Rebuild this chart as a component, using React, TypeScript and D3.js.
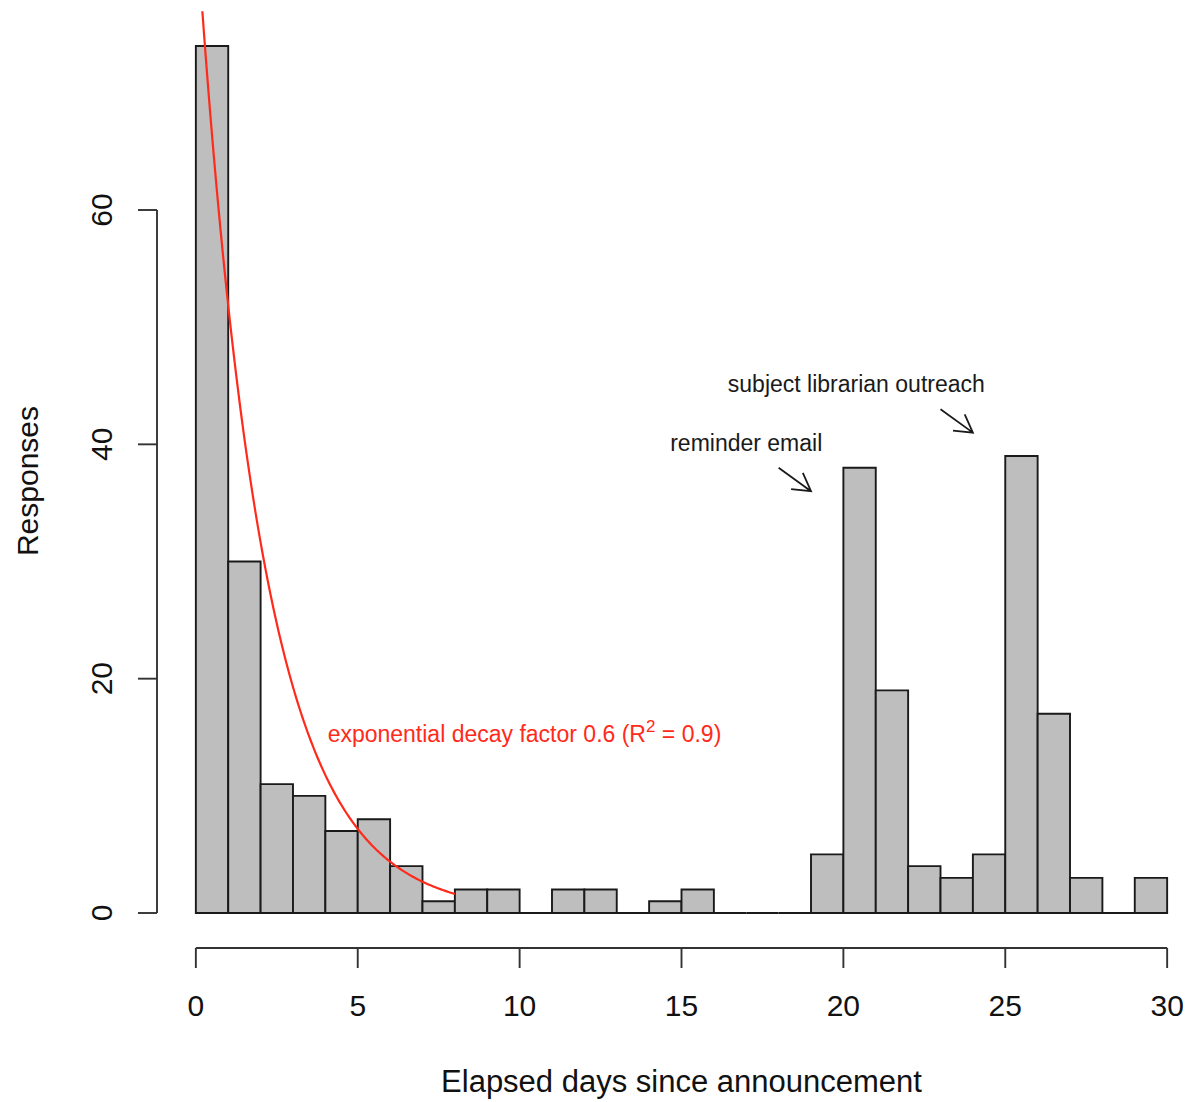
import React from "react";
import * as d3 from "d3";

// Histogram counts for bins [0,1), [1,2), ... [29,30)
const binStarts = d3.range(0, 30);
const counts = [74, 30, 11, 10, 7, 8, 4, 1, 2, 2, 0, 2, 2, 0, 1, 2, 0, 0, 0, 5, 38, 19, 4, 3, 5, 39, 17, 3, 0, 3];
const xTicks = [0, 5, 10, 15, 20, 25, 30];
const yTicks = [0, 20, 40, 60];

// Fitted exponential decay curve y = A * r^x for x in [0, 8]
const decayA = 85;
const decayRate = 0.61;
const curveX = d3.range(0, 8.0001, 0.05);

const annotations = [
  { label: "reminder email", x: 17.0, y: 40, arrow: [18, 38, 19, 36] },
  { label: "subject librarian outreach", x: 20.4, y: 45, arrow: [23, 43, 24, 41] },
];

const W = 1190;
const H = 1102;
const FONT = "'Liberation Sans', Arial, Helvetica, sans-serif";

export default function App() {
  const x = d3.scaleLinear().domain([-1.2, 31.2]).range([157, 1206]);
  const y = d3.scaleLinear().domain([0, 76.96]).range([913, 11.3]);

  const line = d3
    .line<number>()
    .x((d) => x(d))
    .y((d) => y(decayA * Math.pow(decayRate, d)));

  const arrowHead = (x0: number, y0: number, x1: number, y1: number) => {
    const px0 = x(x0), py0 = y(y0), px1 = x(x1), py1 = y(y1);
    const ang = Math.atan2(py0 - py1, px0 - px1);
    const len = 20;
    const a = Math.PI / 6;
    const h1 = [px1 + len * Math.cos(ang + a), py1 + len * Math.sin(ang + a)];
    const h2 = [px1 + len * Math.cos(ang - a), py1 + len * Math.sin(ang - a)];
    return `M${px0},${py0}L${px1},${py1}M${h1[0]},${h1[1]}L${px1},${py1}L${h2[0]},${h2[1]}`;
  };

  return (
    <svg width={W} height={H} style={{ display: "block", position: "absolute", left: 0, top: 0, background: "#fff" }} fontFamily={FONT}>
      <defs>
        <clipPath id="plotclip">
          <rect x={157} y={11.3} width={1049} height={913 - 11.3 + 40} />
        </clipPath>
      </defs>

      {/* bars */}
      <g>
        {binStarts.map((b, i) => {
          const x0 = x(b), x1 = x(b + 1), y0 = y(0), y1 = y(counts[i]);
          return (
            <path
              key={i}
              d={`M${x0},${y0}H${x1}V${y1}H${x0}Z`}
              fill="#bebebe"
              stroke="#1a1a1a"
              strokeWidth={1.9}
            />
          );
        })}
      </g>

      {/* decay curve */}
      <path d={line(curveX) || ""} fill="none" stroke="#ff2a1a" strokeWidth={2.2} clipPath="url(#plotclip)" />
      <text x={x(10.15)} y={742} textAnchor="middle" fontSize={23} fill="#ff2a1a">
        exponential decay factor 0.6 (R
        <tspan dy={-10} fontSize={17}>2</tspan>
        <tspan dy={10}> = 0.9)</tspan>
      </text>

      {/* annotations */}
      {annotations.map((a, i) => (
        <g key={i}>
          <text x={x(a.x)} y={y(a.y) + 6.5} textAnchor="middle" fontSize={23} fill="#1a1a1a">
            {a.label}
          </text>
          <path d={arrowHead(a.arrow[0], a.arrow[1], a.arrow[2], a.arrow[3])} fill="none" stroke="#1a1a1a" strokeWidth={1.8} />
        </g>
      ))}

      {/* y axis */}
      <g stroke="#333" strokeWidth={1.9} fill="none">
        <line x1={157} x2={157} y1={y(60)} y2={y(0)} />
        {yTicks.map((t) => (
          <line key={t} x1={138} x2={157} y1={y(t)} y2={y(t)} />
        ))}
      </g>
      {yTicks.map((t) => (
        <text key={t} transform={`translate(112,${y(t)}) rotate(-90)`} textAnchor="middle" fontSize={30} fill="#111">
          {t}
        </text>
      ))}
      <text transform={`translate(38,481) rotate(-90)`} textAnchor="middle" fontSize={30} fill="#111">
        Responses
      </text>

      {/* x axis */}
      <g stroke="#333" strokeWidth={1.9} fill="none">
        <line x1={x(0)} x2={x(30)} y1={948} y2={948} />
        {xTicks.map((t) => (
          <line key={t} x1={x(t)} x2={x(t)} y1={948} y2={968} />
        ))}
      </g>
      {xTicks.map((t) => (
        <text key={t} x={x(t)} y={1016} textAnchor="middle" fontSize={30} fill="#111">
          {t}
        </text>
      ))}
      <text x={681.5} y={1092} textAnchor="middle" fontSize={31} fill="#111">
        Elapsed days since announcement
      </text>
    </svg>
  );
}
